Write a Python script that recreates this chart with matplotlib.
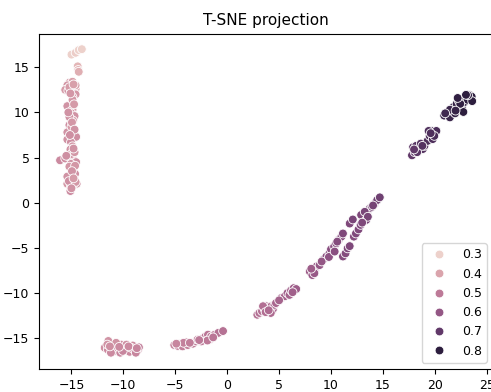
import numpy as np
import matplotlib
matplotlib.use("Agg")
import matplotlib.pyplot as plt
import seaborn as sns

# Left vertical band
band_x = [-15.0, -14.6, -14.3, -14.0, -14.4, -14.35, -14.3,
          -15.2, -14.9, -15.4, -15.6, -15.3, -14.6, -14.6, -14.9, -14.9, -15.05,
          -15.4, -14.9, -15.0, -14.7, -14.85, -15.2, -15.4, -14.7, -14.55, -15.4,
          -15.05, -14.9, -15.1, -16.1, -15.6, -15.2, -14.9, -14.55, -15.05, -14.8,
          -15.0, -15.2, -14.7, -14.5, -15.4, -15.05, -15.1, -14.85, -15.0, -14.7,
          -15.0, -15.2, -14.9, -14.6, -15.2, -15.4, -14.65, -15.2,
          -14.8, -15.1, -14.75, -15.3, -14.95, -14.7, -15.15, -14.8, -15.5, -14.65,
          -14.95, -15.25, -14.6, -15.0, -14.8]
band_y = [16.4, 16.6, 16.9, 17.0, 15.1, 14.7, 14.5,
          13.3, 13.4, 13.0, 12.5, 12.4, 12.6, 12.0, 11.7, 11.1, 10.8,
          10.7, 10.3, 9.9, 9.6, 9.1, 8.6, 7.8, 7.5, 7.3, 7.0,
          6.7, 6.25, 5.9, 4.7, 4.9, 5.1, 5.0, 4.5, 4.3, 3.8,
          3.2, 2.9, 2.6, 2.1, 2.1, 1.8, 1.3, 1.95, 5.4, 5.6,
          8.4, 9.5, 11.4, 13.0, 12.8, 2.9, 3.2, 4.0,
          13.1, 12.1, 10.9, 10.0, 8.9, 8.1, 7.5, 6.0, 5.2, 4.1,
          3.5, 2.4, 2.3, 1.6, 2.7]
band_h = [0.30, 0.31, 0.30, 0.30, 0.36, 0.37, 0.38,
          0.42, 0.41, 0.43, 0.42, 0.44, 0.41, 0.43, 0.42, 0.44, 0.43,
          0.44, 0.42, 0.43, 0.44, 0.42, 0.45, 0.44, 0.43, 0.45, 0.44,
          0.45, 0.43, 0.44, 0.46, 0.45, 0.44, 0.43, 0.45, 0.44, 0.45,
          0.43, 0.44, 0.45, 0.44, 0.43, 0.45, 0.46, 0.42, 0.44, 0.43,
          0.42, 0.44, 0.43, 0.41, 0.42, 0.44, 0.45, 0.43,
          0.41, 0.43, 0.42, 0.44, 0.43, 0.44, 0.45, 0.44, 0.45, 0.43,
          0.44, 0.45, 0.43, 0.44, 0.42]

# Bottom-left group
low1_x = [-11.45, -11.8, -11.5, -11.0, -10.85, -10.55, -10.3, -10.2, -9.9, -9.6, -9.4,
          -9.1, -8.95, -8.6, -8.5, -11.2, -10.7, -10.05, -9.7, -9.25, -11.55, -8.8,
          -11.3, -10.4, -9.5, -8.7]
low1_y = [-15.3, -16.05, -16.25, -15.9, -16.4, -16.05, -16.6, -15.7, -16.05, -16.25, -16.5,
          -15.8, -16.25, -16.3, -16.0, -16.6, -15.5, -16.4, -15.7, -16.05, -15.7, -16.6,
          -15.9, -15.95, -15.9, -16.1]
low1_h = [0.44, 0.45, 0.46, 0.45, 0.47, 0.46, 0.47, 0.45, 0.46, 0.47, 0.46,
          0.45, 0.46, 0.47, 0.48, 0.46, 0.44, 0.47, 0.45, 0.46, 0.44, 0.47,
          0.45, 0.46, 0.46, 0.47]

# Bottom-middle group
low2_x = [-5.1, -4.75, -4.45, -4.3, -3.95, -3.8, -3.3, -3.0, -2.85, -2.35,
          -2.1, -1.85, -1.7, -1.55, -1.2, -0.85, -0.4, -4.2, -2.5, -1.9,
          -4.9, -3.6, -2.7, -1.35]
low2_y = [-15.75, -15.85, -15.6, -15.9, -15.45, -15.75, -15.6, -15.35, -15.15, -15.0,
          -14.8, -14.6, -15.15, -14.8, -14.6, -14.4, -14.2, -15.5, -15.35, -15.25,
          -15.6, -15.5, -15.2, -14.9]
low2_h = [0.47, 0.48, 0.47, 0.48, 0.49, 0.48, 0.49, 0.50, 0.49, 0.50,
          0.50, 0.51, 0.50, 0.51, 0.51, 0.52, 0.52, 0.48, 0.50, 0.50,
          0.47, 0.49, 0.50, 0.51]

# Rising group
mid_x = [2.9, 3.1, 3.35, 3.6, 3.75, 3.9, 4.1, 4.25, 4.4, 4.55,
         4.7, 5.2, 5.55, 5.8, 6.0, 6.15, 6.4, 6.65, 3.45, 4.2,
         3.7, 4.0, 5.0, 6.3]
mid_y = [-12.4, -12.2, -12.0, -11.75, -11.45, -12.0, -11.65, -11.45, -11.8, -11.3,
         -11.1, -10.55, -10.35, -10.0, -10.2, -9.7, -9.45, -9.55, -11.45, -12.2,
         -12.1, -11.9, -10.8, -9.9]
mid_h = [0.52, 0.53, 0.53, 0.54, 0.54, 0.53, 0.55, 0.54, 0.55, 0.55,
         0.55, 0.56, 0.56, 0.57, 0.56, 0.57, 0.57, 0.58, 0.53, 0.54,
         0.53, 0.54, 0.56, 0.57]

# Diagonal strands
arm_x = [7.95, 8.2, 8.45, 8.6, 8.9, 9.25, 9.55, 9.85, 10.0, 10.3, 10.5, 10.75, 11.0, 11.15,
         8.4, 9.1, 9.8, 10.35, 8.1, 10.6,
         11.15, 11.4, 11.6, 11.8, 11.8, 12.1,
         12.2, 12.4, 12.65, 12.85, 13.1, 13.3, 13.5, 13.75, 13.95, 14.2, 14.45, 14.7,
         12.9, 13.25, 13.4, 13.55, 13.0, 14.05]
arm_y = [-7.6, -8.0, -7.45, -7.05, -6.9, -6.3, -5.95, -5.6, -5.15, -4.85, -4.5, -4.1, -3.75, -3.4,
         -7.8, -6.5, -6.0, -5.4, -7.3, -4.3,
         -5.95, -5.6, -5.05, -4.8, -2.3, -1.85,
         -3.75, -3.4, -2.95, -2.45, -1.9, -1.55, -1.0, -0.6, -0.45, -0.1, 0.3, 0.6,
         -1.35, -1.0, -1.9, -1.55, -2.2, -0.3]
arm_h = [0.58, 0.59, 0.59, 0.60, 0.60, 0.61, 0.61, 0.62, 0.62, 0.62, 0.63, 0.63, 0.63, 0.64,
         0.59, 0.60, 0.61, 0.62, 0.58, 0.63,
         0.63, 0.63, 0.64, 0.64, 0.64, 0.65,
         0.63, 0.64, 0.64, 0.64, 0.65, 0.65, 0.65, 0.66, 0.66, 0.66, 0.67, 0.67,
         0.64, 0.65, 0.65, 0.65, 0.64, 0.66]

# Upper-right pair of groups
top1_x = [17.8, 18.05, 17.9, 18.2, 18.4, 18.65, 18.85, 19.0, 19.3, 19.5,
          19.7, 19.95, 20.15, 19.4, 19.8, 19.95, 18.3, 18.8, 18.0, 19.6]
top1_y = [5.25, 5.6, 6.15, 6.3, 5.75, 6.55, 5.95, 6.3, 6.85, 7.4,
          7.95, 7.6, 7.95, 7.95, 7.05, 7.4, 5.6, 6.3, 5.9, 7.7]
top1_h = [0.70, 0.71, 0.71, 0.72, 0.71, 0.72, 0.72, 0.72, 0.73, 0.73,
          0.74, 0.73, 0.74, 0.73, 0.73, 0.74, 0.71, 0.72, 0.70, 0.73]

top2_x = [20.9, 21.2, 21.45, 21.6, 21.8, 21.95, 22.1, 22.3, 22.6, 22.75,
          22.85, 22.95, 23.15, 23.4, 23.55, 23.6, 21.45, 22.45, 23.2, 22.0,
          21.0, 22.2, 23.0]
top2_y = [9.65, 10.0, 9.45, 10.2, 10.6, 9.9, 10.95, 11.3, 10.6, 10.05,
          11.15, 11.7, 11.4, 11.9, 11.75, 11.25, 10.3, 10.95, 11.9, 10.2,
          9.9, 11.6, 11.95]
top2_h = [0.76, 0.76, 0.77, 0.77, 0.78, 0.78, 0.78, 0.79, 0.79, 0.80,
          0.79, 0.80, 0.80, 0.80, 0.80, 0.80, 0.77, 0.79, 0.79, 0.78,
          0.76, 0.79, 0.80]

x = np.concatenate([band_x, low1_x, low2_x, mid_x, arm_x, top1_x, top2_x])
y = np.concatenate([band_y, low1_y, low2_y, mid_y, arm_y, top1_y, top2_y])
h = np.concatenate([band_h, low1_h, low2_h, mid_h, arm_h, top1_h, top2_h])

fig = plt.figure(figsize=(4.91, 3.92), dpi=100)
ax = fig.add_axes([0.080, 0.0587, 0.924, 0.855])

sns.scatterplot(x=x, y=y, hue=h, ax=ax, s=40, linewidth=0.6, edgecolor="white")

ax.set_xlim(-18.1, 25.6)
ax.set_ylim(-18.4, 18.7)
ax.set_title("T-SNE projection", fontsize=11)
ax.tick_params(labelsize=9)
ax.legend(loc="lower right", fontsize=9)

fig.savefig("out.png", dpi=100)
